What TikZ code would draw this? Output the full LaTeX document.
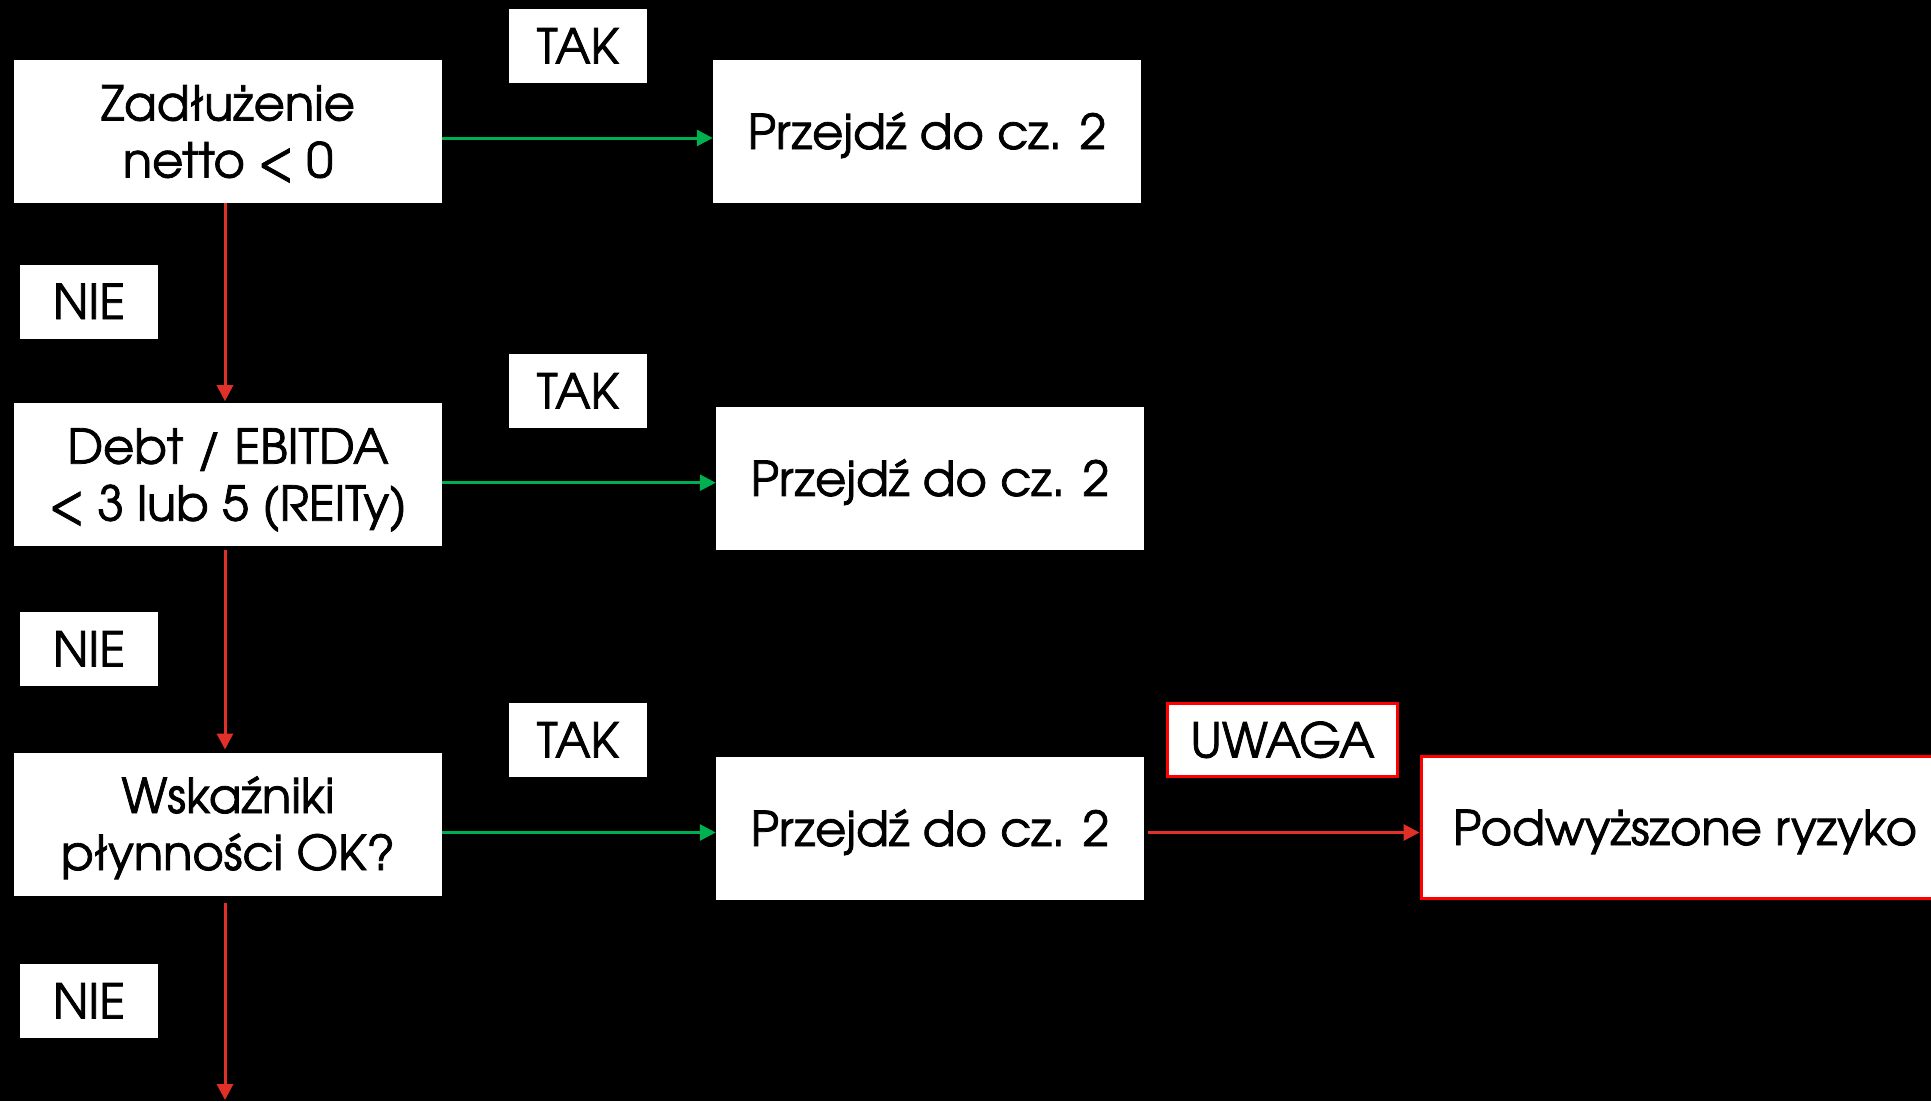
\documentclass[tikz,border=0pt]{standalone}
\usepackage{fontspec}
\setmainfont{texgyreadventor}[Extension=.otf,UprightFont=*-regular,FakeBold=1.6]
\usetikzlibrary{arrows.meta}
\definecolor{arrgreen}{HTML}{00B050}
\definecolor{arrred}{HTML}{E03028}
\definecolor{boxred}{HTML}{FF0000}
\newcommand\twoline[2]{\begin{tabular}[t]{@{}c@{}}#1\\#2\end{tabular}}
\tikzset{
  basebox/.style={fill=white, inner sep=0pt, outer sep=0pt, font=\fontsize{48}{57}\selectfont, text=black, text height=35pt, text depth=0pt},
  bigbox/.style={basebox, minimum width=428.5pt, minimum height=143pt},
  twobox/.style={bigbox, text depth=57pt},
  tagbox/.style={basebox, minimum width=138.5pt, minimum height=74pt},
  redbox/.style={basebox, draw=boxred, line width=3pt},
  link/.style={line width=3pt, -{Triangle[length=16pt,width=16pt]}},
  yeslink/.style={link, draw=arrgreen},
  nolink/.style={link, draw=arrred},
}
\begin{document}
\begin{tikzpicture}[x=1pt,y=-1pt]
\useasboundingbox (0,0) rectangle (1931,1101);
\fill[black] (0,0) rectangle (1931,1101);
\clip (0,0) rectangle (1931,1101);

\node[twobox] (b1) at (228,131.5) {\twoline{Zadłużenie}{netto < 0}};
\node[twobox] (b2) at (228,474.7) {\twoline{Debt / EBITDA}{< 3 lub 5 (REITy)}};
\node[twobox] (b3) at (228,824) {\twoline{Wskaźniki}{płynności OK?}};

\node[bigbox] (p1) at (927,131.5) {Przejdź do cz. 2};
\node[bigbox] (p2) at (930,478.4) {Przejdź do cz. 2};
\node[bigbox] (p3) at (930,828.5) {Przejdź do cz. 2};

\node[tagbox] (t1) at (578,46) {TAK};
\node[tagbox] (t2) at (578,391) {TAK};
\node[tagbox] (t3) at (578,740) {TAK};

\node[tagbox] (n1) at (89,301.5) {NIE};
\node[tagbox] (n2) at (89,649) {NIE};
\node[tagbox] (n3) at (89,1001) {NIE};

\node[redbox, minimum width=230pt, minimum height=73pt] (u) at (1282.5,740) {UWAGA};
\node[redbox, minimum width=527pt, minimum height=142pt] (r) at (1685,827.5) {Podwyższone ryzyko};

% vertical NIE arrows
\draw[nolink] ([xshift=-3pt]b1.south) -- ([xshift=-3pt,yshift=2pt]b2.north);
\draw[nolink] ([xshift=-3pt,yshift=-4pt]b2.south) -- ([xshift=-3pt,yshift=3pt]b3.north);
\coordinate (bottomend) at (225,1100);
\draw[nolink] ([xshift=-3pt,yshift=-7pt]b3.south) -- (bottomend);

% horizontal TAK arrows
\path ([yshift=-6.5pt]b1.east) coordinate (g1);
\path ([yshift=-8pt]b2.east) coordinate (g2);
\path ([yshift=-8.5pt]b3.east) coordinate (g3);
\draw[yeslink] (g1) -- (g1 -| p1.west);
\draw[yeslink] (g2) -- (g2 -| p2.west);
\draw[yeslink] (g3) -- (g3 -| p3.west);

% UWAGA arrow
\path ([xshift=4pt]g3 -| p3.east) coordinate (w1);
\draw[nolink] (w1) -- ([xshift=-2pt]w1 -| r.west);
\end{tikzpicture}
\end{document}
